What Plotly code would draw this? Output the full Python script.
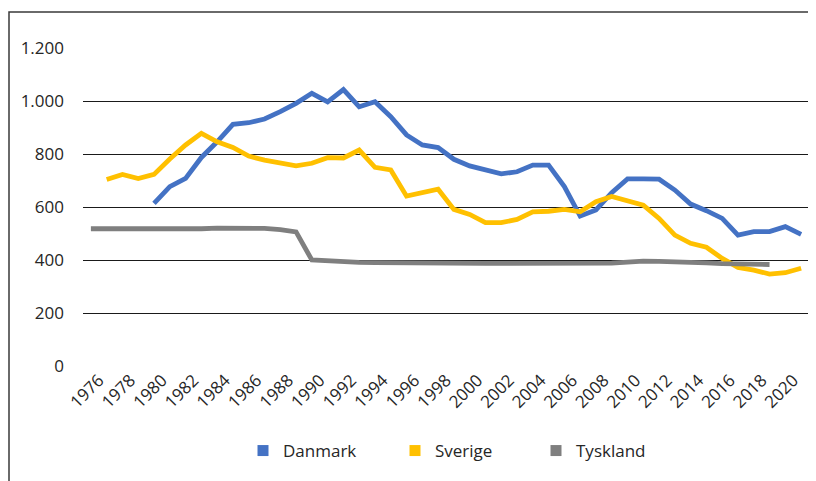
import plotly.graph_objects as go

danmark_years = list(range(1980, 2022))
danmark = [614, 677, 708, 787, 846, 912, 918, 932, 960, 991,
           1029, 997, 1043, 978, 997, 941, 872, 834, 824, 780,
           755, 742, 725, 733, 758, 758, 677, 566, 589, 654,
           706, 706, 705, 664, 611, 586, 557, 494, 507, 507,
           526, 497]

sverige_years = list(range(1977, 2022))
sverige = [704, 723, 707, 723, 781, 834, 878, 846, 825, 792,
           777, 765, 755, 765, 786, 785, 815, 750, 740, 641,
           652, 667, 591, 572, 541, 541, 553, 582, 584, 591,
           582, 620, 640, 625, 607, 557, 494, 463, 448, 406,
           372, 362, 347, 352, 369]

tyskland_years = list(range(1976, 2020))
tyskland = [518, 518, 518, 517, 515, 515, 516, 518, 520, 520,
            520, 519, 515, 506, 400, 396, 393, 391, 390, 389,
            389, 389, 388, 388, 388, 387, 387, 387, 387, 387,
            387, 387, 388, 388, 392, 396, 395, 394, 392, 389,
            386, 384, 383, 383]

x_ticks = list(range(1976, 2021, 2))
y_ticks = [0, 200, 400, 600, 800, 1000, 1200]

names = ["Danmark", "Sverige", "Tyskland"]
colors = ["#4472C4", "#FFC000", "#7F7F7F"]
series = [(danmark_years, danmark), (sverige_years, sverige), (tyskland_years, tyskland)]

FONT = "Open Sans"
TXT = "#262626"

# figure geometry (page has an 8px body margin)
W, H = 808, 473
L, R, T, B = 75, 7, 40, 115
pw = W - L - R
ph = H - T - B

legend_keys = ["legend", "legend2", "legend3"]
legend_left_px = [235, 387, 528]
legend_y_px = 443

fig = go.Figure()
for name, color, (xs, ys) in zip(names, colors, series):
    fig.add_trace(go.Scatter(x=xs, y=ys, mode="lines", name=name,
                             line=dict(color=color, width=4.8),
                             showlegend=False, hoverinfo="x+y+name"))
for name, color, lk in zip(names, colors, legend_keys):
    fig.add_trace(go.Scatter(x=[None], y=[None], mode="markers", name=name,
                             marker=dict(symbol="square", size=11, color=color),
                             showlegend=True, legend=lk))

legend_common = dict(orientation="h", xanchor="left", yanchor="middle",
                     font=dict(family=FONT, size=17, color=TXT),
                     bgcolor="rgba(0,0,0,0)")
legends = {}
for lk, lx in zip(legend_keys, legend_left_px):
    legends[lk] = dict(legend_common, x=(lx - L) / pw,
                       y=-(legend_y_px - (T + ph)) / ph)

fig.update_layout(
    width=W, height=H,
    margin=dict(l=L, r=R, t=T, b=B, pad=0),
    paper_bgcolor="white", plot_bgcolor="white",
    separators=",.",
    font=dict(family=FONT, size=17, color=TXT),
    showlegend=True,
    xaxis=dict(range=[1975.5, 2021.5], tickmode="array", tickvals=x_ticks,
               ticktext=[str(v) for v in x_ticks], tickangle=-45,
               showgrid=False, zeroline=False, showline=False, ticks="",
               tickfont=dict(family=FONT, size=17, color=TXT),
               ticklabelshift=8, ticklabelstandoff=0),
    yaxis=dict(range=[0, 1200], tickmode="array", tickvals=y_ticks,
               tickformat=",d", showgrid=True, gridcolor="#1a1a1a", gridwidth=1,
               zeroline=False, showline=False, ticks="",
               tickfont=dict(family=FONT, size=17, color=TXT),
               ticklabelstandoff=18),
    **legends,
)

# Outer chart frame: rectangle whose right and bottom edges fall outside the page
fig.add_shape(type="rect", xref="paper", yref="paper", layer="above",
              x0=(1 - L) / pw, x1=(W + 20 - L) / pw,
              y0=-(B + 20) / ph, y1=(H - 4 - B) / ph,
              line=dict(color="#3a3a3a", width=1.5), fillcolor="rgba(0,0,0,0)")

fig.write_html("out.html")
